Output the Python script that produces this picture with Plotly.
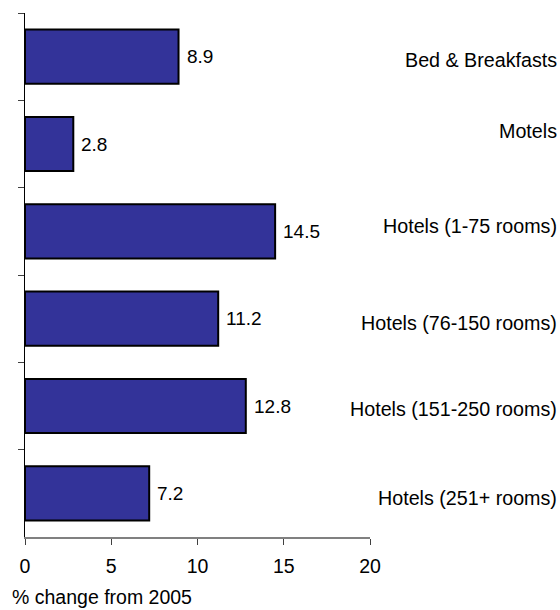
import plotly.graph_objects as go

categories = [
    "Bed & Breakfasts",
    "Motels",
    "Hotels (1-75 rooms)",
    "Hotels (76-150 rooms)",
    "Hotels (151-250 rooms)",
    "Hotels (251+ rooms)",
]
pct_change = [8.9, 2.8, 14.5, 11.2, 12.8, 7.2]
x_ticks = [0, 5, 10, 15, 20]
x_title = "% change from 2005"

FONT = "Liberation Sans, Arial, sans-serif"
BAR_COLOR = "#333399"

# label nudges (px, positive = up) - category labels in the source sit a bit off-centre
label_shift = [-3, 13.5, 5.5, -4.5, -2.5, -4.5]

fig = go.Figure(go.Bar(
    x=pct_change,
    y=categories,
    orientation="h",
    marker=dict(color=BAR_COLOR, line=dict(color="black", width=2)),
    hoverinfo="skip",
))

annotations = []
for cat, val in zip(categories, pct_change):
    annotations.append(dict(
        x=val, y=cat, xref="x", yref="y", text=f"{val}",
        xanchor="left", yanchor="middle", xshift=6, showarrow=False,
        font=dict(family=FONT, size=19, color="black"),
    ))
for cat, dy in zip(categories, label_shift):
    annotations.append(dict(
        x=1, y=cat, xref="paper", yref="y", text=cat,
        xanchor="right", yanchor="middle", xshift=189, yshift=dy, showarrow=False,
        font=dict(family=FONT, size=19.7, color="black"),
    ))
annotations.append(dict(
    x=0, y=0, xref="paper", yref="paper", text=x_title,
    xanchor="left", yanchor="bottom", xshift=-14, yshift=-72, showarrow=False,
    borderpad=0,
    font=dict(family=FONT, size=19.5, color="black"),
))

fig.update_layout(
    width=560, height=610,
    margin=dict(l=25, r=190, t=13, b=73, autoexpand=False),
    paper_bgcolor="white", plot_bgcolor="white",
    bargap=0.38,
    showlegend=False,
    annotations=annotations,
    font=dict(family=FONT, size=19, color="black"),
    xaxis=dict(
        range=[0, 20], tickvals=x_ticks, showgrid=False, zeroline=False,
        showline=True, linecolor="#808080", linewidth=2,
        ticks="outside", ticklen=6, tickcolor="#404040", tickwidth=1,
        tickfont=dict(family=FONT, size=19.5, color="black"),
        ticklabelstandoff=5,
        automargin=False,
    ),
    yaxis=dict(
        autorange="reversed", showticklabels=False, showgrid=False, zeroline=False,
        showline=True, linecolor="black", linewidth=1,
        ticks="outside", tickson="boundaries", ticklen=6, tickcolor="#404040", tickwidth=1,
        automargin=False,
    ),
)

fig.write_html(
    "out.html",
    config={"displayModeBar": False},
    post_script="document.body.style.margin='0';document.body.style.overflow='hidden';",
)
